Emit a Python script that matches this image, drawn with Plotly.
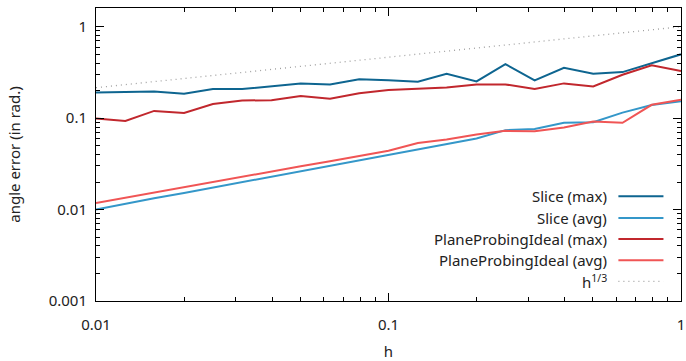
import numpy as np
import plotly.graph_objects as go

# mesh sizes: ten per decade from 0.01 to 1
h = [0.01, 0.0126, 0.0158, 0.02, 0.0251, 0.0316, 0.0398, 0.0501, 0.0631, 0.0794,
     0.1, 0.126, 0.158, 0.2, 0.251, 0.316, 0.398, 0.501, 0.631, 0.794, 1.0]

slice_max = [0.191, 0.193, 0.196, 0.185, 0.208, 0.208, 0.224, 0.240, 0.234, 0.267,
             0.259, 0.250, 0.306, 0.252, 0.390, 0.259, 0.356, 0.306, 0.319, 0.397, 0.499]
slice_avg = [0.0100, 0.0116, 0.0133, 0.0152, 0.0174, 0.0200, 0.0229, 0.0263, 0.0301, 0.0345,
             0.0397, 0.0457, 0.0515, 0.0600, 0.0739, 0.0763, 0.0889, 0.0904, 0.115, 0.139, 0.153]
ppi_max = [0.099, 0.093, 0.120, 0.114, 0.143, 0.156, 0.157, 0.175, 0.163, 0.187,
           0.203, 0.208, 0.217, 0.234, 0.234, 0.208, 0.240, 0.222, 0.298, 0.378, 0.327]
ppi_avg = [0.0118, 0.0135, 0.0154, 0.0176, 0.0200, 0.0228, 0.0260, 0.0297, 0.0338, 0.0385,
           0.0441, 0.0536, 0.0584, 0.0663, 0.0726, 0.0721, 0.0791, 0.0920, 0.0889, 0.140, 0.159]

names = ["Slice (max)", "Slice (avg)", "PlaneProbingIdeal (max)",
         "PlaneProbingIdeal (avg)", "h<sup>1/3</sup>"]
colors = ["#0e6590", "#3497c9", "#c1272d", "#f05555", "#a0a0a0"]

ref = list(np.array(h) ** (1.0 / 3.0))
series = [slice_max, slice_avg, ppi_max, ppi_avg, ref]

FONT = "Noto Sans"
FS = 15
DOTS = "1px,4px"

fig = go.Figure()
for i, ys in enumerate(series):
    dash = DOTS if i == 4 else "solid"
    width = 1.3 if i == 4 else 2
    fig.add_trace(go.Scatter(x=h, y=ys, mode="lines", name=names[i],
                             line=dict(color=colors[i], width=width, dash=dash),
                             showlegend=False))

# key in the lower-right corner: text right-aligned, sample line to its right
key_y = [0.3577, 0.2836, 0.2118, 0.139, 0.0673]
for i, name in enumerate(names):
    fig.add_annotation(x=0.8775, y=key_y[i], xref="paper", yref="paper",
                       text=name, showarrow=False, xanchor="right", yanchor="middle",
                       font=dict(family=FONT, size=FS, color="#222"))
    fig.add_shape(type="line", xref="paper", yref="paper",
                  x0=0.893, x1=0.970, y0=key_y[i], y1=key_y[i],
                  line=dict(color=colors[i], width=1.3 if i == 4 else 2,
                            dash=DOTS if i == 4 else "solid"))

x_major = [0.01, 0.1, 1]
x_minor = [m * 10.0 ** e for e in (-2, -1) for m in range(2, 10)]
y_major = [0.001, 0.01, 0.1, 1]
y_minor = [m * 10.0 ** e for e in (-3, -2, -1) for m in range(2, 10)]

axis_common = dict(type="log", showgrid=False, zeroline=False, showline=True,
                   linecolor="black", linewidth=1, mirror="ticks", ticks="inside",
                   ticklen=8, tickcolor="black", tickwidth=1, automargin=False,
                   tickfont=dict(family=FONT, size=FS, color="#222"))

fig.update_xaxes(**axis_common, range=[-2, 0], tickvals=x_major,
                 ticktext=["0.01", "0.1", "1"], ticklabelstandoff=10,
                 minor=dict(tickvals=x_minor, ticks="inside", ticklen=4,
                            tickcolor="black", tickwidth=1),
                 title=dict(text="h", font=dict(family=FONT, size=FS, color="#222"),
                            standoff=13))
fig.update_yaxes(**axis_common, range=[-3, 0.2048], tickvals=y_major,
                 ticktext=["0.001", "0.01", "0.1", "1"], ticklabelstandoff=5,
                 minor=dict(tickvals=y_minor, ticks="inside", ticklen=4,
                            tickcolor="black", tickwidth=1),
                 title=dict(text="angle error (in rad.)",
                            font=dict(family=FONT, size=FS, color="#222"),
                            standoff=24))

fig.update_layout(width=686, height=361, margin=dict(l=96, r=5, t=8, b=60),
                  paper_bgcolor="white", plot_bgcolor="white",
                  font=dict(family=FONT, size=FS, color="#222"))

fig.write_html("out.html")
